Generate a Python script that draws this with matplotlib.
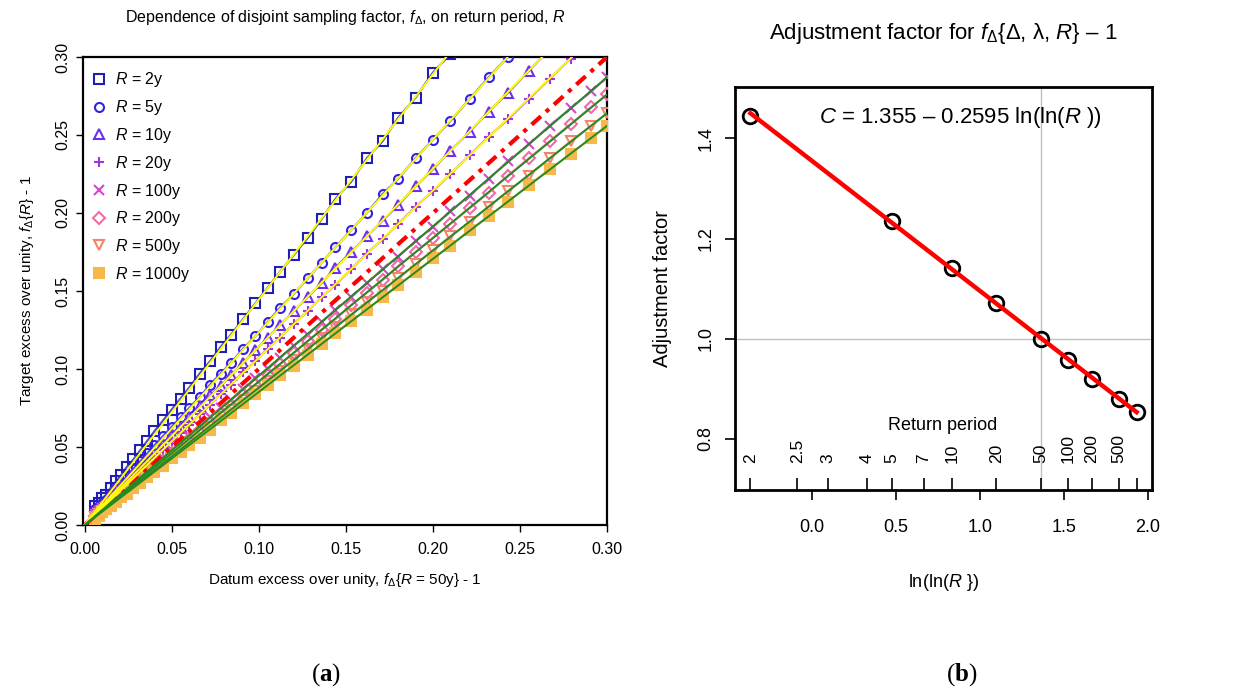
import matplotlib
matplotlib.use("Agg")
import matplotlib.pyplot as plt
import numpy as np

# Fonts: Arial-like text, R plotmath-like italics
plt.rcParams['font.family'] = ['Liberation Sans', 'DejaVu Sans']
plt.rcParams['mathtext.fontset'] = 'custom'
plt.rcParams['mathtext.rm'] = 'Liberation Sans'
plt.rcParams['mathtext.it'] = 'Liberation Sans:italic'
plt.rcParams['mathtext.bf'] = 'Liberation Serif:bold'

# ---- panel (a) data: datum excess f{R=50y}-1 and target excess f{R}-1 ----
datum = [0.006, 0.008, 0.010, 0.012, 0.015, 0.018, 0.021, 0.024, 0.028, 0.032,
         0.036, 0.040, 0.045, 0.050, 0.055, 0.060, 0.066, 0.072, 0.078, 0.084,
         0.091, 0.098, 0.105, 0.112, 0.120, 0.128, 0.136, 0.144, 0.153, 0.162,
         0.171, 0.180, 0.190, 0.200, 0.210, 0.221, 0.232, 0.243, 0.255, 0.267,
         0.279, 0.291, 0.300]

target_2y = [0.012, 0.014, 0.017, 0.019, 0.024, 0.028, 0.032, 0.037, 0.042, 0.048,
             0.054, 0.060, 0.067, 0.074, 0.081, 0.088, 0.097, 0.105, 0.114, 0.122,
             0.132, 0.142, 0.152, 0.162, 0.173, 0.184, 0.196, 0.209, 0.220, 0.235,
             0.246, 0.261, 0.274, 0.290, 0.302]
target_5y = [0.010, 0.012, 0.014, 0.016, 0.020, 0.024, 0.027, 0.031, 0.036, 0.041,
             0.046, 0.051, 0.057, 0.063, 0.069, 0.075, 0.082, 0.090, 0.097, 0.104,
             0.113, 0.121, 0.130, 0.139, 0.148, 0.158, 0.168, 0.178, 0.189, 0.200,
             0.212, 0.222, 0.235, 0.247, 0.259, 0.273, 0.287, 0.300, 0.315]
target_10y = [0.009, 0.011, 0.013, 0.015, 0.018, 0.022, 0.025, 0.028, 0.033, 0.037,
              0.042, 0.046, 0.052, 0.058, 0.063, 0.069, 0.076, 0.083, 0.089, 0.096,
              0.104, 0.112, 0.120, 0.128, 0.137, 0.146, 0.155, 0.165, 0.175, 0.185,
              0.195, 0.205, 0.217, 0.228, 0.240, 0.252, 0.265, 0.277, 0.291, 0.305]
target_20y = [0.008, 0.010, 0.012, 0.014, 0.017, 0.020, 0.023, 0.026, 0.030, 0.035,
              0.039, 0.043, 0.048, 0.054, 0.059, 0.064, 0.071, 0.077, 0.084, 0.090,
              0.098, 0.105, 0.113, 0.120, 0.129, 0.137, 0.146, 0.154, 0.164, 0.174,
              0.183, 0.193, 0.204, 0.214, 0.225, 0.237, 0.249, 0.260, 0.273, 0.286,
              0.299, 0.312]
target_100y = [0.007, 0.009, 0.011, 0.012, 0.015, 0.018, 0.021, 0.023, 0.027, 0.031,
               0.035, 0.038, 0.043, 0.048, 0.053, 0.057, 0.063, 0.069, 0.075, 0.080,
               0.087, 0.094, 0.100, 0.107, 0.115, 0.122, 0.130, 0.138, 0.146, 0.155,
               0.164, 0.172, 0.182, 0.191, 0.201, 0.211, 0.222, 0.233, 0.244, 0.256,
               0.267, 0.278, 0.287]
target_200y = [0.006, 0.008, 0.010, 0.011, 0.014, 0.017, 0.020, 0.022, 0.026, 0.029,
               0.033, 0.037, 0.041, 0.046, 0.051, 0.055, 0.061, 0.066, 0.072, 0.077,
               0.084, 0.090, 0.097, 0.103, 0.110, 0.118, 0.125, 0.132, 0.141, 0.149,
               0.157, 0.166, 0.175, 0.184, 0.193, 0.203, 0.213, 0.224, 0.235, 0.246,
               0.257, 0.268, 0.276]
target_500y = [0.005, 0.007, 0.009, 0.011, 0.013, 0.016, 0.018, 0.021, 0.025, 0.028,
               0.032, 0.035, 0.040, 0.044, 0.048, 0.053, 0.058, 0.063, 0.069, 0.074,
               0.080, 0.086, 0.092, 0.099, 0.106, 0.113, 0.120, 0.127, 0.135, 0.143,
               0.150, 0.158, 0.167, 0.176, 0.185, 0.194, 0.204, 0.214, 0.224, 0.235,
               0.246, 0.256, 0.264]
target_1000y = [0.004, 0.006, 0.008, 0.010, 0.012, 0.015, 0.018, 0.020, 0.024, 0.027,
                0.031, 0.034, 0.038, 0.043, 0.047, 0.051, 0.056, 0.061, 0.067, 0.072,
                0.078, 0.084, 0.090, 0.096, 0.102, 0.109, 0.116, 0.123, 0.131, 0.138,
                0.146, 0.154, 0.162, 0.171, 0.179, 0.189, 0.198, 0.207, 0.218, 0.228,
                0.238, 0.248, 0.256]

series_names = ["2y", "5y", "10y", "20y", "100y", "200y", "500y", "1000y"]
series_values = [target_2y, target_5y, target_10y, target_20y,
                 target_100y, target_200y, target_500y, target_1000y]
series_colors = ["#1f1fb4", "#3322e6", "#6e2ff0", "#a233e4",
                 "#d446cc", "#f26aa6", "#f48468", "#f7b84a"]
series_markers = ["s", "o", "^", "+", "x", "D", "v", "s"]

# ---- panel (b) data: adjustment factor per return period ----
return_period = [2, 5, 10, 20, 50, 100, 200, 500, 1000]
adj_factor = [1.445, 1.235, 1.142, 1.072, 1.000, 0.957, 0.920, 0.880, 0.853]
fit_a, fit_b = 1.355, -0.2595
rp_ticks = [2, 2.5, 3, 4, 5, 7, 10, 20, 50, 100, 200, 500, 1000]
rp_labels = ["2", "2.5", "3", "4", "5", "7", "10", "20", "50", "100", "200", "500", ""]

fig = plt.figure(figsize=(12.48, 6.98), dpi=100)

# ================= panel (a) =================
ax1 = fig.add_axes([0.0665, 0.2479, 0.42, 0.6705])
handles = []
for name, vals, col, mk in zip(series_names, series_values, series_colors, series_markers):
    filled = name == "1000y"
    xs = datum[:len(vals)]
    # thin trace underneath so the dense cloud reads as a band
    ax1.plot(xs, vals, color=col, lw=1.6, alpha=0.8, zorder=2)
    if mk in ("+", "x"):
        size = 7.5
    elif mk == "D":
        size = 6
    else:
        size = 6.5
    h, = ax1.plot(xs, vals, linestyle="none", marker=mk, ms=size,
                  mew=1.5, color=col,
                  mfc=col if filled else "none", mec=col,
                  label=r"$R$ = " + name, zorder=3)
    handles.append(h)

# fitted lines through origin, slope = adjustment factor
line_cols = ["yellow", "yellow", "yellow", "yellow", None,
             "forestgreen", "forestgreen", "forestgreen", "forestgreen"]
for rp, slope, lc in zip(return_period, adj_factor, line_cols):
    if rp == 50:
        ax1.axline((0, 0), slope=slope, color="red", lw=3,
                   dashes=(3, 1.6, 1, 1.6), zorder=4)
    else:
        ax1.axline((0, 0), slope=slope, color=lc, lw=1.4, zorder=5)

ax1.set_xlim(-0.001, 0.3)
ax1.set_ylim(0, 0.3)
ticks = np.arange(0, 0.301, 0.05)
ax1.set_xticks(ticks)
ax1.set_yticks(ticks)
ax1.set_xticklabels(["%.2f" % t for t in ticks])
ax1.set_yticklabels(["%.2f" % t for t in ticks], rotation=90, va="center")
ax1.tick_params(labelsize=11.5, length=5, width=1, pad=4)
ax1.tick_params(axis="x", pad=7)
for sp in ax1.spines.values():
    sp.set_linewidth(1.6)
ax1.set_title(r"Dependence of disjoint sampling factor, $f_{\Delta}$, on return period, $R$",
              fontsize=11.5, pad=25)
ax1.set_xlabel(r"Datum excess over unity, $f_{\Delta}$" + "{" + r"$R$ = 50y} - 1",
               fontsize=11, labelpad=10)
ax1.set_ylabel(r"Target excess over unity, $f_{\Delta}$" + "{" + r"$R$} - 1",
               fontsize=11, labelpad=14)
ax1.legend(handles=handles, loc="upper left", bbox_to_anchor=(0.006, 0.985),
           frameon=False, fontsize=11.5, handlelength=0.8, handletextpad=0.6,
           labelspacing=0.55, borderaxespad=0)

# ================= panel (b) =================
ax2 = fig.add_axes([0.589, 0.298, 0.334, 0.577])
lnln = np.log(np.log(np.array(return_period, dtype=float)))
ax2.axvline(np.log(np.log(50)), color="#c0c0c0", lw=1, zorder=1)
ax2.axhline(1.0, color="#c0c0c0", lw=1, zorder=1)
ax2.plot(lnln, adj_factor, linestyle="none", marker="o", ms=10.5, mfc="none",
         mec="black", mew=2, zorder=3)
fit_x = lnln[[0, -1]]
ax2.plot(fit_x, fit_a + fit_b * fit_x, color="red", lw=3.2, zorder=4)

ax2.set_xlim(-0.458, 2.024)
ax2.set_ylim(0.698, 1.502)
ax2.set_xticks([0.0, 0.5, 1.0, 1.5, 2.0])
ax2.set_xticklabels(["0.0", "0.5", "1.0", "1.5", "2.0"])
ax2.set_yticks([0.8, 1.0, 1.2, 1.4])
ax2.set_yticklabels(["0.8", "1.0", "1.2", "1.4"], rotation=90, va="center")
ax2.tick_params(labelsize=13, length=7, width=1.2)
ax2.tick_params(axis="x", pad=14)
ax2.tick_params(axis="y", pad=8)
for sp in ax2.spines.values():
    sp.set_linewidth(2)

# inner return-period axis
tr = ax2.get_xaxis_transform()
rp_pos = np.log(np.log(np.array(rp_ticks, dtype=float)))
ax2.vlines(rp_pos, 0, 0.03, transform=tr, color="black", lw=1.2)
for p, lab in zip(rp_pos, rp_labels):
    ax2.text(p, 0.067, lab, transform=tr, rotation=90, ha="center", va="bottom",
             fontsize=12.5)
ax2.text(0.78, 0.138, "Return period", transform=tr, ha="center", va="bottom",
         fontsize=13)

ax2.text(0.54, 0.926, r"$C$ = 1.355 – 0.2595 ln(ln($R$ ))", transform=ax2.transAxes,
         ha="center", va="center", fontsize=16)
ax2.set_xlabel(r"ln(ln($R$ })", fontsize=13, labelpad=26)
ax2.set_ylabel("Adjustment factor", fontsize=14.5, labelpad=18)
fig.text(943 / 1248, 1 - 33 / 698,
         r"Adjustment factor for $f_{\Delta}$" + "{Δ, λ, " + r"$R$} – 1",
         ha="center", va="center", fontsize=16)

# panel letters
fig.text(326 / 1248, 1 - 675 / 698, r"($\mathbf{a}$)", ha="center", va="center",
         fontsize=18, family="Liberation Serif")
fig.text(962 / 1248, 1 - 675 / 698, r"($\mathbf{b}$)", ha="center", va="center",
         fontsize=18, family="Liberation Serif")

fig.savefig("out.png", dpi=100)
